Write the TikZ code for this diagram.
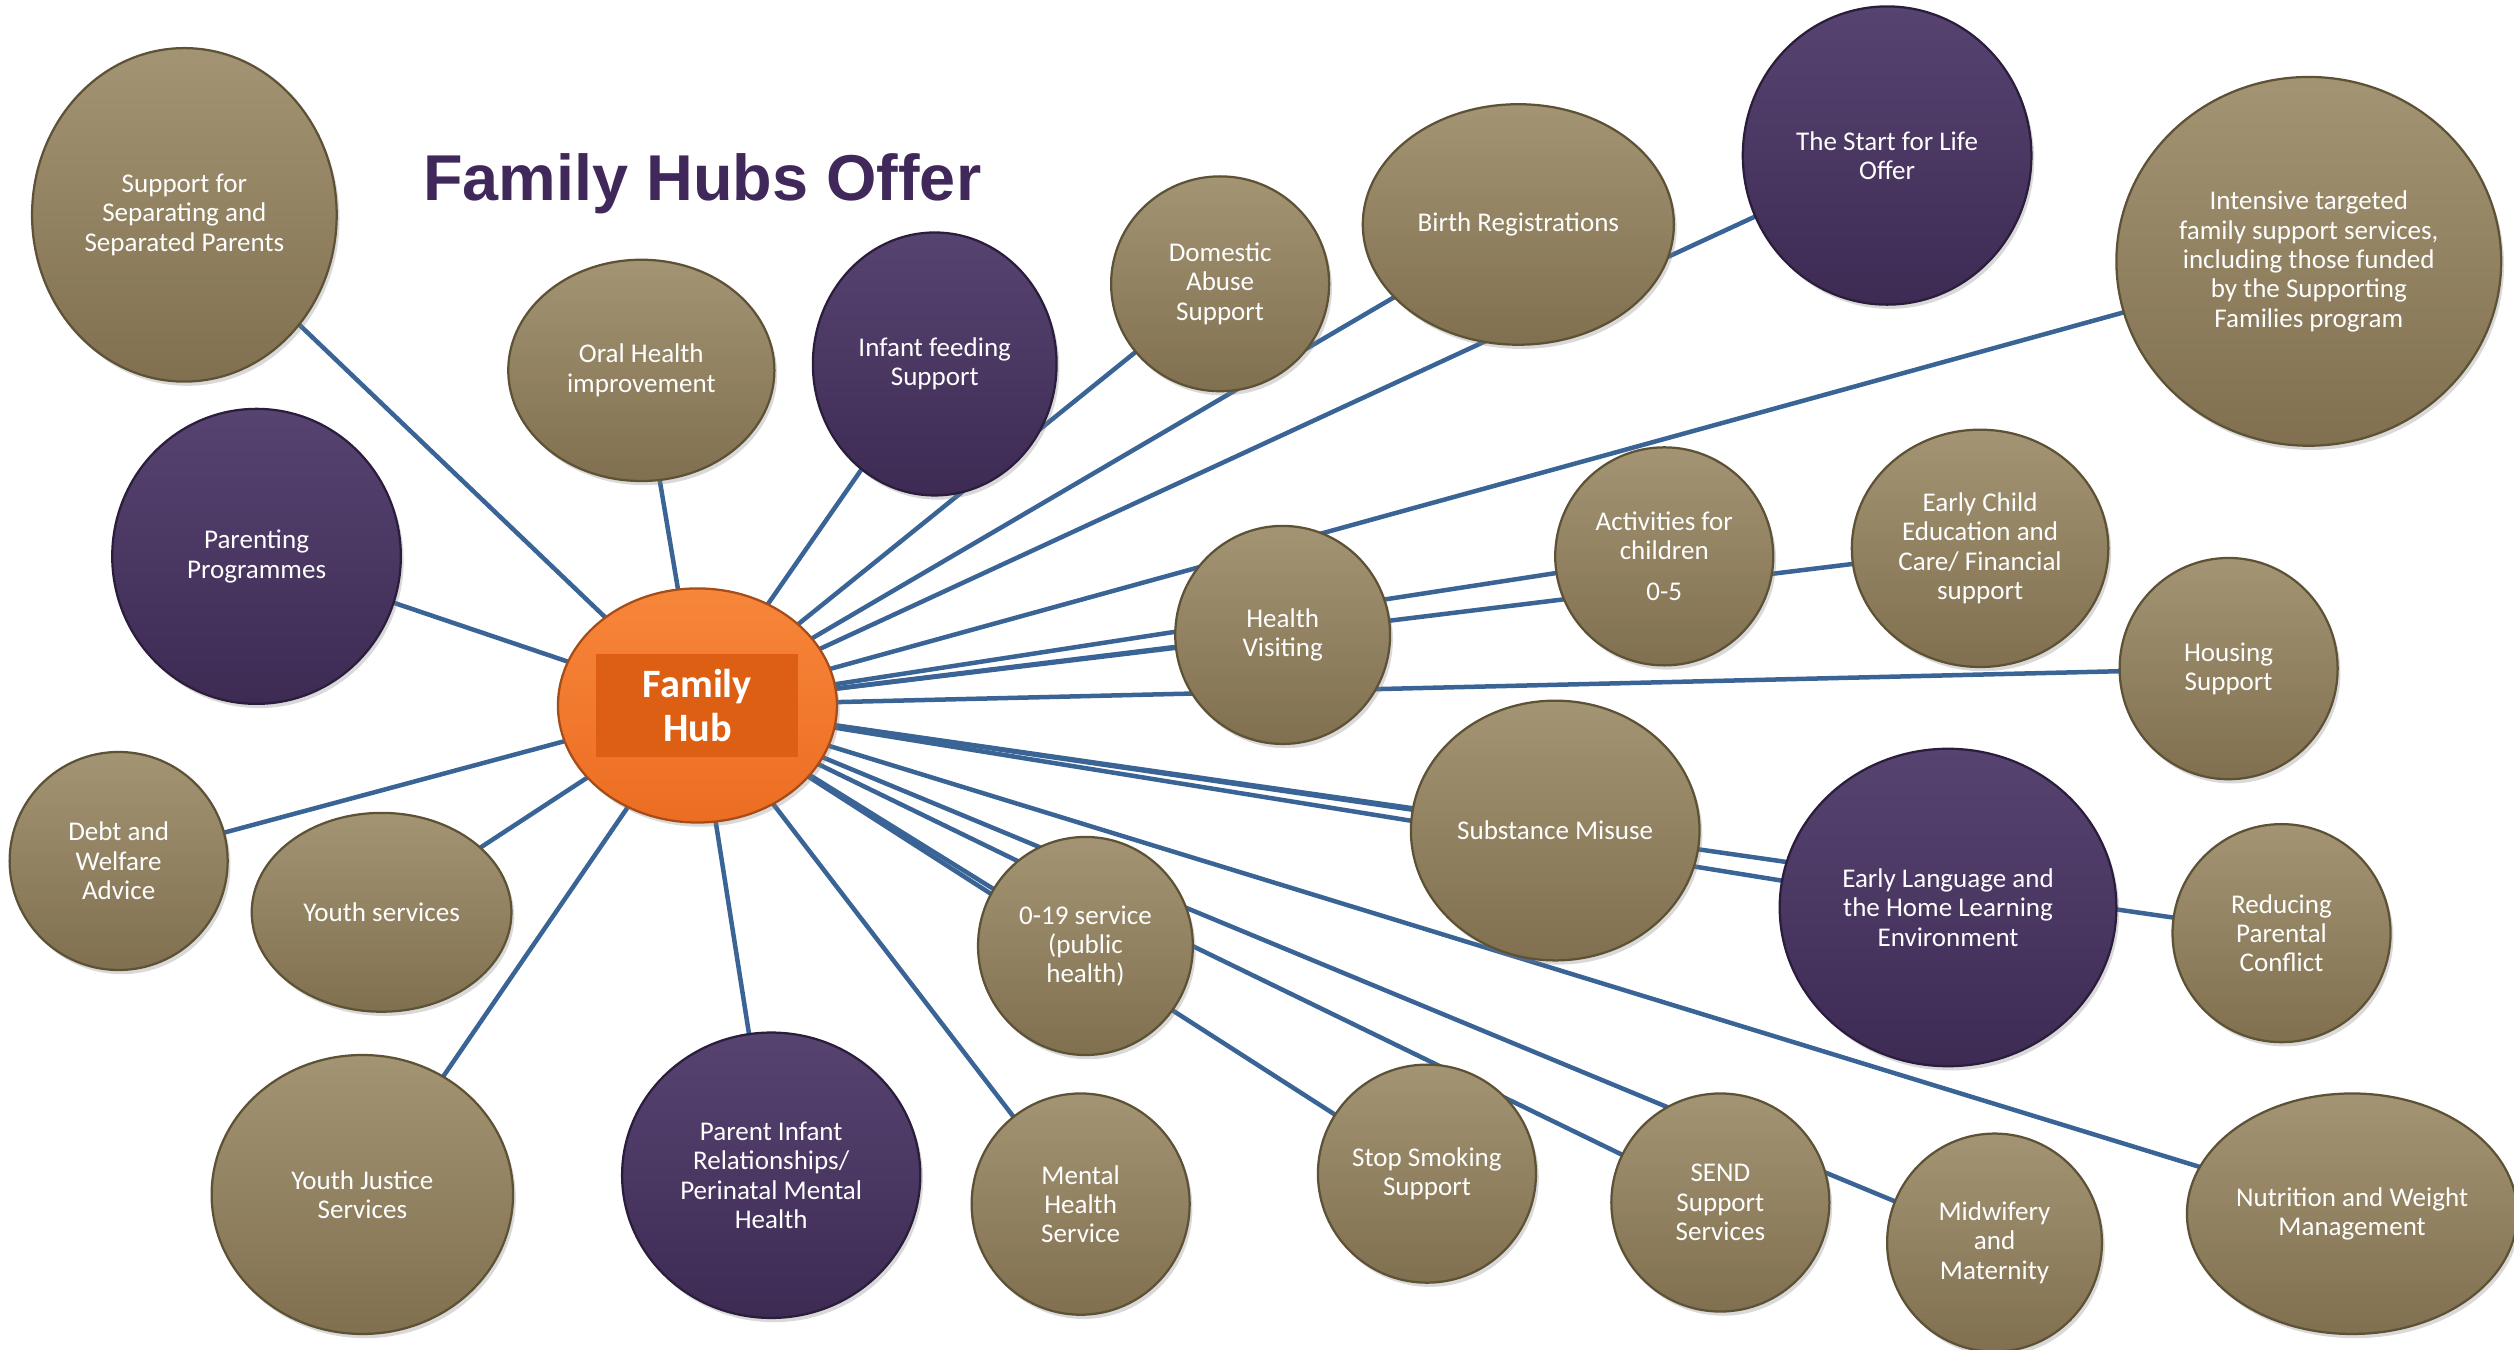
\documentclass[tikz,border=0pt]{standalone}
\usepackage{fontspec}
\setmainfont{Carlito}
\newfontfamily\titlefont{Liberation Sans}
\usepackage{tikz}
\usetikzlibrary{shapes.geometric, shadows, backgrounds}

\definecolor{tanlight}{HTML}{A39473}
\definecolor{tanmid}{HTML}{938361}
\definecolor{tandark}{HTML}{807050}
\definecolor{tanedge}{HTML}{5E5236}
\definecolor{purplight}{HTML}{574370}
\definecolor{purpmid}{HTML}{4A3663}
\definecolor{purpdark}{HTML}{3D2B54}
\definecolor{purpedge}{HTML}{2B1D3C}
\definecolor{hublight}{HTML}{F7863A}
\definecolor{hubdark}{HTML}{EC6D22}
\definecolor{hubbox}{HTML}{DC5F14}
\definecolor{linkblue}{HTML}{3A6496}
\definecolor{titlepurple}{HTML}{40285A}

\begin{document}
\begin{tikzpicture}[
  x=0.02cm, y=-0.02cm,
  dims/.style 2 args={minimum width=#1*0.02cm, minimum height=#2*0.02cm},
  bubble/.style={ellipse, inner sep=0pt, align=center, text=white, line width=0.8pt,
    font=\fontsize{9.6}{10.4}\selectfont,
    drop shadow={opacity=0.3, shadow xshift=1pt, shadow yshift=-1.5pt}},
  service/.style={bubble, draw=tanedge, top color=tanlight, middle color=tanmid, bottom color=tandark},
  keyservice/.style={bubble, draw=purpedge, top color=purplight, middle color=purpmid, bottom color=purpdark},
  hub/.style={ellipse, inner sep=0pt, draw=hubdark!70!black, line width=0.8pt,
    top color=hublight, bottom color=hubdark,
    drop shadow={opacity=0.3, shadow xshift=1pt, shadow yshift=-1.5pt}},
  hubbox/.style={fill=hubbox, text=white, align=center, inner sep=0pt,
    minimum width=126*0.02cm, minimum height=64*0.02cm,
    font=\fontsize{14.3}{15.3}\selectfont\bfseries},
  link/.style={draw=linkblue, line width=1.6pt},
  title/.style={text=titlepurple, font=\titlefont\fontsize{23}{26}\selectfont\bfseries}
]
\useasboundingbox (0,0) rectangle (1568,842);

% ======================================================
% =============== TITLE ================================
% ======================================================
\node[title, anchor=base] (title) at (438,125) {Family Hubs Offer};

% ======================================================
% =============== HUB ==================================
% ======================================================
\node[hub, dims={174}{146}] (hub) at (435,440) {};
\node[hubbox] (hublabel) at (hub.center) {Family\\Hub};

% ======================================================
% =============== TOP ROW ==============================
% ======================================================
\node[service, dims={190}{208}] (sep) at (115,134) {Support for\\Separating and\\Separated Parents};
\node[keyservice, dims={180}{184}] (parprog) at (160,347) {Parenting\\Programmes};
\node[service, dims={166}{138}] (oral) at (400,231) {Oral Health\\improvement};
\node[keyservice, dims={152}{164}] (infant) at (583,227) {Infant feeding\\Support};
\node[service, dims={136}{134}] (domestic) at (761,177) {Domestic\\Abuse\\Support};
\node[service, dims={194}{150}] (birth) at (947,140) {Birth Registrations};
\node[keyservice, dims={180}{186}] (startlife) at (1177,97) {The Start for Life\\Offer};
\node[service, dims={240}{230}] (intensive) at (1440,163) {Intensive targeted\\family support services,\\including those funded\\by the Supporting\\Families program};

% ======================================================
% =============== MIDDLE ROW ===========================
% ======================================================
\node[service, dims={134}{136}] (hv) at (800,396) {Health\\Visiting};
\node[service, dims={136}{136}] (activities) at (1038,347) {Activities for\\children\\[4pt]0-5};
\node[service, dims={160}{148}] (earlychild) at (1235,342) {Early Child\\Education and\\Care/ Financial\\support};
\node[service, dims={136}{138}] (housing) at (1390,417) {Housing\\Support};
\node[service, dims={180}{162}] (substance) at (970,518) {Substance Misuse};
\node[keyservice, dims={210}{198}] (earlylang) at (1215,566) {Early Language and\\the Home Learning\\Environment};
\node[service, dims={136}{136}] (reducing) at (1423,582) {Reducing\\Parental\\Conflict};
\node[service, dims={136}{136}] (debt) at (74,537) {Debt and\\Welfare\\Advice};
\node[service, dims={162}{124}] (youth) at (238,569) {Youth services};
\node[service, dims={134}{136}] (zero19) at (677,590) {0-19 service\\(public\\health)};

% ======================================================
% =============== BOTTOM ROW ===========================
% ======================================================
\node[service, dims={188}{174}] (justice) at (226,745) {Youth Justice\\Services};
\node[keyservice, dims={186}{178}] (pir) at (481,733) {Parent Infant\\Relationships/\\Perinatal Mental\\Health};
\node[service, dims={136}{138}] (mental) at (674,751) {Mental\\Health\\Service};
\node[service, dims={136}{136}] (smoking) at (890,732) {Stop Smoking\\Support};
\node[service, dims={136}{136}] (send) at (1073,750) {SEND\\Support\\Services};
\node[service, dims={134}{136}] (midwifery) at (1244,775) {Midwifery\\and\\Maternity};
\node[service, dims={206}{150}] (nutrition) at (1467,757) {Nutrition and Weight\\Management};

% links (behind everything)
\begin{pgfonlayer}{background}
\foreach \n in {sep, parprog, oral, infant, domestic, birth, startlife, intensive,
  hv, activities, earlychild, housing, substance, earlylang, reducing,
  debt, youth, zero19, justice, pir, mental, smoking, send, midwifery, nutrition}
  \draw[link] (hub.center) -- (\n.center);
\end{pgfonlayer}

\end{tikzpicture}
\end{document}
